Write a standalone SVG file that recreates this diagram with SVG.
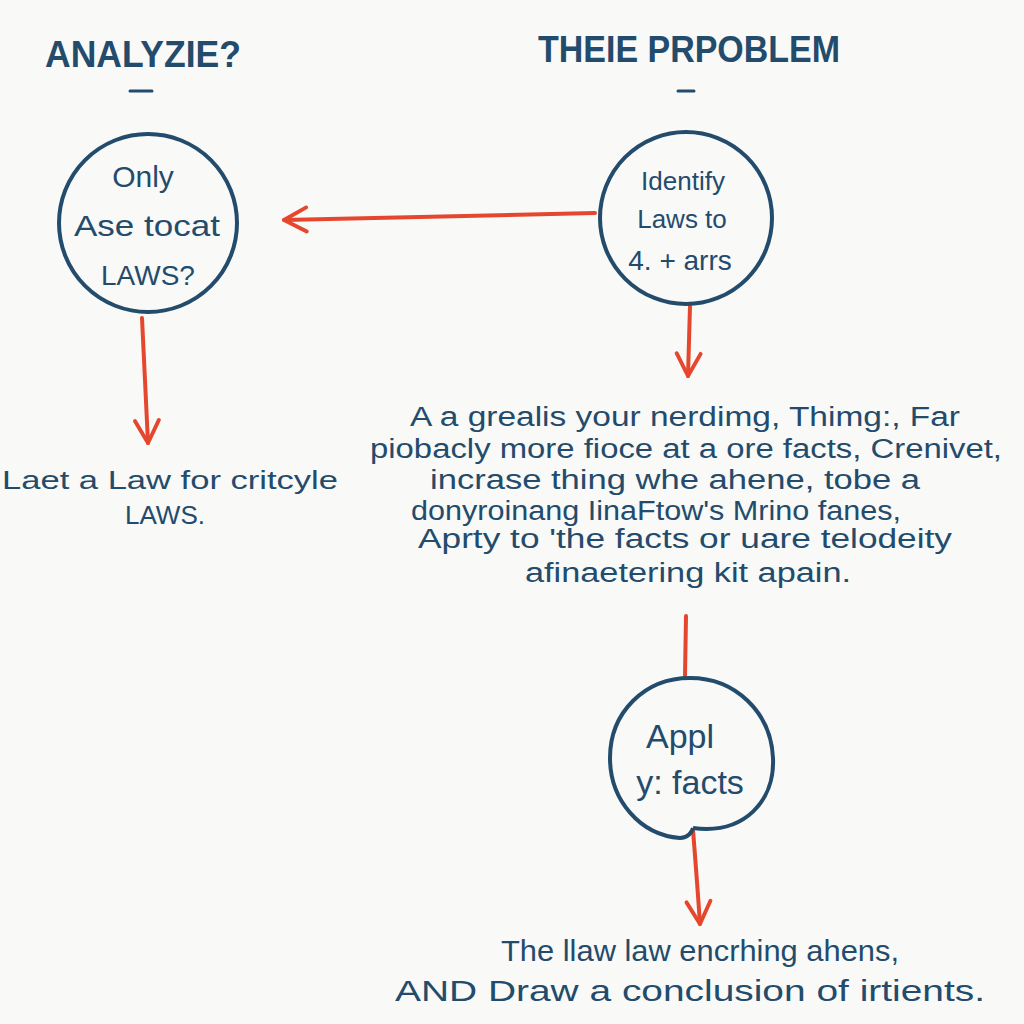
<svg xmlns="http://www.w3.org/2000/svg" width="1024" height="1024" viewBox="0 0 1024 1024">
<defs>
<style>
.bg{fill:#f9f9f7}
.t{font-family:"Liberation Sans","DejaVu Sans",sans-serif;fill:#234b6c;text-anchor:middle}
.title{font-size:36px;font-weight:bold}
.node{fill:none;stroke:#234b6c;stroke-width:4}
.edge{fill:none;stroke:#e5472e;stroke-width:4;stroke-linecap:round}
.dash{stroke:#234b6c;stroke-width:3;stroke-linecap:round}
</style>
<marker id="ah" viewBox="0 0 20 20" refX="18" refY="10" markerWidth="30" markerHeight="30" markerUnits="userSpaceOnUse" orient="auto">
<path d="M3 2 L18 10 L3 18" fill="none" stroke="#e5472e" stroke-width="2.6" stroke-linecap="round" stroke-linejoin="round"/>
</marker>
</defs>
<rect class="bg" width="1024" height="1024"/>

<g id="title-analyze">
<text class="t title" x="143" y="67" textLength="196" lengthAdjust="spacingAndGlyphs">ANALYZIE?</text>
<line class="dash" x1="130" y1="91" x2="152" y2="91"/>
</g>
<g id="title-problem">
<text class="t title" x="689" y="62" textLength="302" lengthAdjust="spacingAndGlyphs">THEIE PRPOBLEM</text>
<line class="dash" x1="678" y1="91" x2="694" y2="91"/>
</g>

<g id="connectors">
<path class="edge" d="M595 213 Q440 216 284 220" marker-end="url(#ah)"/>
<path class="edge" d="M142 318 L148 443" marker-end="url(#ah)"/>
<path class="edge" d="M690 306 L688 376" marker-end="url(#ah)"/>
<path class="edge" d="M686 616 L685 676"/>
<path class="edge" d="M693 830 Q697 880 700 924" marker-end="url(#ah)"/>
</g>

<g id="node-only">
<circle class="node" cx="148" cy="223" r="89"/>
<text class="t" font-size="30" x="143" y="187">Only</text>
<text class="t" font-size="30" x="147" y="236" textLength="146" lengthAdjust="spacingAndGlyphs">Ase tocat</text>
<text class="t" font-size="28" x="148" y="285">LAWS?</text>
</g>

<g id="node-identify">
<circle class="node" cx="686" cy="218" r="86"/>
<text class="t" font-size="26" x="683" y="190">Identify</text>
<text class="t" font-size="26" x="682" y="228">Laws to</text>
<text class="t" font-size="28" x="680" y="270">4. + arrs</text>
</g>

<g id="label-left">
<text class="t" font-size="26" x="170" y="489" textLength="336" lengthAdjust="spacingAndGlyphs">Laet a Law for critcyle</text>
<text class="t" font-size="26" x="165" y="524">LAWS.</text>
</g>

<g id="paragraph">
<text class="t" font-size="27" x="685" y="426" textLength="550" lengthAdjust="spacingAndGlyphs">A a grealis your nerdimg, Thimg:, Far</text>
<text class="t" font-size="27" x="686" y="458" textLength="632" lengthAdjust="spacingAndGlyphs">piobacly more fioce at a ore facts, Crenivet,</text>
<text class="t" font-size="27" x="675" y="489" textLength="490" lengthAdjust="spacingAndGlyphs">incrase thing whe ahene, tobe a</text>
<text class="t" font-size="27" x="656" y="520" textLength="490" lengthAdjust="spacingAndGlyphs">donyroinang IinaFtow's Mrino fanes,</text>
<text class="t" font-size="27" x="685" y="548" textLength="534" lengthAdjust="spacingAndGlyphs">Aprty to 'the facts or uare telodeity</text>
<text class="t" font-size="27" x="688" y="582" textLength="326" lengthAdjust="spacingAndGlyphs">afinaetering kit apain.</text>
</g>

<g id="node-apply">
<path class="node" d="M693 828 C745 835 775 800 773 758 C771 712 735 678 690 678 C645 678 610 712 610 758 C610 800 640 835 680 838 C688 838 692 832 693 828"/>
<text class="t" font-size="34" x="680" y="748">Appl</text>
<text class="t" font-size="34" x="690" y="794">y: facts</text>
</g>

<g id="label-bottom">
<text class="t" font-size="30" x="700" y="961" textLength="398" lengthAdjust="spacingAndGlyphs">The llaw law encrhing ahens,</text>
<text class="t" font-size="30" x="690" y="1001" textLength="590" lengthAdjust="spacingAndGlyphs">AND Draw a conclusion of irtients.</text>
</g>
</svg>
